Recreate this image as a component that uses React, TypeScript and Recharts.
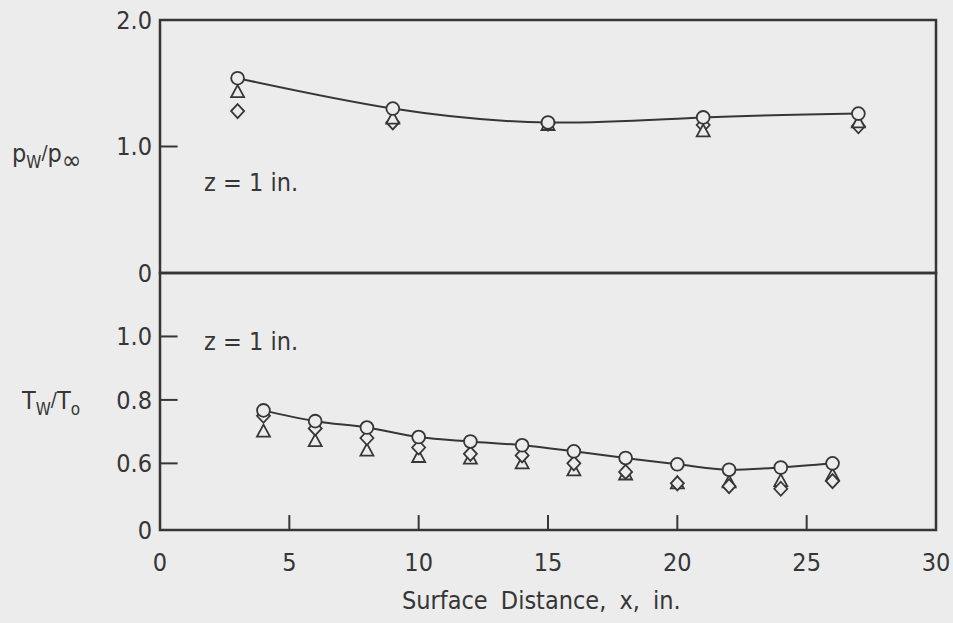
import React from "react";
import {
  ComposedChart,
  Line,
  Scatter,
  XAxis,
  YAxis,
  ReferenceArea,
  ReferenceLine,
} from "recharts";

// ---- data ----
const topX = [3, 9, 15, 21, 27];
const topCircle = [1.54, 1.3, 1.19, 1.23, 1.26];
const topTriangle = [1.43, 1.22, 1.17, 1.12, 1.19];
const topDiamond = [1.28, 1.19, 1.18, 1.17, 1.16];

const botX = [4, 6, 8, 10, 12, 14, 16, 18, 20, 22, 24, 26];
const botCircle = [0.767, 0.733, 0.713, 0.683, 0.669, 0.657, 0.638, 0.617, 0.597, 0.58, 0.587, 0.6];
const botDiamond = [0.75, 0.71, 0.68, 0.65, 0.63, 0.625, 0.6, 0.573, 0.537, 0.528, 0.52, 0.544];
const botTriangle = [0.7, 0.67, 0.64, 0.62, 0.615, 0.6, 0.578, 0.565, 0.537, 0.54, 0.544, 0.562];

const xTicks = [0, 5, 10, 15, 20, 25, 30];
const topYTicks = [0, 1, 2];
const botYTicks = [0.39, 0.6, 0.8, 1.0];
const innerXTicks = [5, 10, 15, 20, 25];

const BG = "#ececec";
const INK = "#363636";
const FONT = "'Liberation Sans Narrow', 'DejaVu Sans Condensed', 'Roboto Condensed', sans-serif";

const zip = (xs: number[], ys: number[]) => xs.map((x, i) => ({ x, y: ys[i] }));

const CircleShape = (p: any) => (
  <circle cx={p.cx} cy={p.cy} r={6.4} fill={BG} stroke={INK} strokeWidth={1.8} />
);
const TriangleShape = (p: any) => (
  <polygon
    points={`${p.cx},${p.cy - 7} ${p.cx - 6.5},${p.cy + 5} ${p.cx + 6.5},${p.cy + 5}`}
    fill={BG}
    stroke={INK}
    strokeWidth={1.8}
  />
);
const DiamondShape = (p: any) => (
  <polygon
    points={`${p.cx},${p.cy - 7} ${p.cx + 6.5},${p.cy} ${p.cx},${p.cy + 7} ${p.cx - 6.5},${p.cy}`}
    fill={BG}
    stroke={INK}
    strokeWidth={1.8}
  />
);

const tickStyle = { fill: INK, fontSize: 25, fontFamily: FONT };

const txt: React.CSSProperties = {
  position: "absolute",
  fontFamily: FONT,
  fontSize: 25,
  color: INK,
  whiteSpace: "nowrap",
  lineHeight: 1,
};
const subS: React.CSSProperties = { fontSize: 17, verticalAlign: -6 };
const slashS: React.CSSProperties = { fontSize: 20, verticalAlign: 3 };

export default function App() {
  return (
    <div
      style={{
        position: "absolute",
        left: 0,
        top: 0,
        width: 953,
        height: 623,
        background: BG,
        overflow: "hidden",
      }}
    >
      {/* Top panel */}
      <div style={{ position: "absolute", left: 0, top: 0 }}>
        <ComposedChart width={953} height={300} margin={{ top: 20, right: 17, bottom: 27, left: 100 }}>
          <XAxis dataKey="x" type="number" domain={[0, 30]} ticks={xTicks} hide />
          <YAxis
            type="number"
            domain={[0, 2]}
            ticks={topYTicks}
            width={60}
            axisLine={false}
            tickLine={false}
            tick={tickStyle}
            tickFormatter={(v: number) => (v === 0 ? "0" : v.toFixed(1))}
          />
          <ReferenceArea x1={0} x2={30} y1={0} y2={2} fill="none" stroke={INK} strokeWidth={2.5} />
          <ReferenceLine
            segment={[{ x: 0, y: 1 }, { x: 0.68, y: 1 }]}
            stroke={INK}
            strokeWidth={2}
          />
          <Line
            data={zip(topX, topCircle)}
            dataKey="y"
            type="natural"
            stroke={INK}
            strokeWidth={2}
            dot={false}
            isAnimationActive={false}
          />
          <Scatter data={zip(topX, topDiamond)} dataKey="y" shape={DiamondShape} isAnimationActive={false} />
          <Scatter data={zip(topX, topTriangle)} dataKey="y" shape={TriangleShape} isAnimationActive={false} />
          <Scatter data={zip(topX, topCircle)} dataKey="y" shape={CircleShape} isAnimationActive={false} />
        </ComposedChart>
      </div>

      {/* Bottom panel */}
      <div style={{ position: "absolute", left: 0, top: 0 }}>
        <ComposedChart width={953} height={623} margin={{ top: 273, right: 17, bottom: 53, left: 100 }}>
          <XAxis
            dataKey="x"
            type="number"
            domain={[0, 30]}
            ticks={xTicks}
            height={40}
            axisLine={false}
            tickLine={false}
            tickMargin={17}
            tick={tickStyle}
          />
          <YAxis
            type="number"
            domain={[0.39, 1.2]}
            ticks={botYTicks}
            width={60}
            axisLine={false}
            tickLine={false}
            tick={tickStyle}
            tickFormatter={(v: number) => (v < 0.5 ? "0" : v.toFixed(1))}
          />
          <ReferenceArea x1={0} x2={30} y1={0.39} y2={1.2} fill="none" stroke={INK} strokeWidth={2.5} />
          {botYTicks.slice(1).map((t) => (
            <ReferenceLine
              key={"y" + t}
              segment={[{ x: 0, y: t }, { x: 0.68, y: t }]}
              stroke={INK}
              strokeWidth={2}
            />
          ))}
          {innerXTicks.map((t) => (
            <ReferenceLine
              key={"x" + t}
              segment={[{ x: t, y: 0.39 }, { x: t, y: 0.437 }]}
              stroke={INK}
              strokeWidth={2}
            />
          ))}
          <Line
            data={zip(botX, botCircle)}
            dataKey="y"
            type="monotone"
            stroke={INK}
            strokeWidth={2}
            dot={false}
            isAnimationActive={false}
          />
          <Scatter data={zip(botX, botTriangle)} dataKey="y" shape={TriangleShape} isAnimationActive={false} />
          <Scatter data={zip(botX, botDiamond)} dataKey="y" shape={DiamondShape} isAnimationActive={false} />
          <Scatter data={zip(botX, botCircle)} dataKey="y" shape={CircleShape} isAnimationActive={false} />
        </ComposedChart>
      </div>

      {/* Axis titles and annotations */}
      <div style={{ ...txt, left: 12, top: 141 }}>
        p<span style={subS}>W</span><span style={slashS}>/</span>p<span style={{ ...subS, fontSize: 26, verticalAlign: -7 }}>∞</span>
      </div>
      <div style={{ ...txt, left: 22, top: 388 }}>
        T<span style={subS}>W</span><span style={slashS}>/</span>T<span style={subS}>o</span>
      </div>
      <div style={{ ...txt, left: 204, top: 170 }}>z = 1 in.</div>
      <div style={{ ...txt, left: 204, top: 329 }}>z = 1 in.</div>
      <div style={{ ...txt, left: 402, top: 588, wordSpacing: 6 }}>Surface Distance, x, in.</div>
    </div>
  );
}
